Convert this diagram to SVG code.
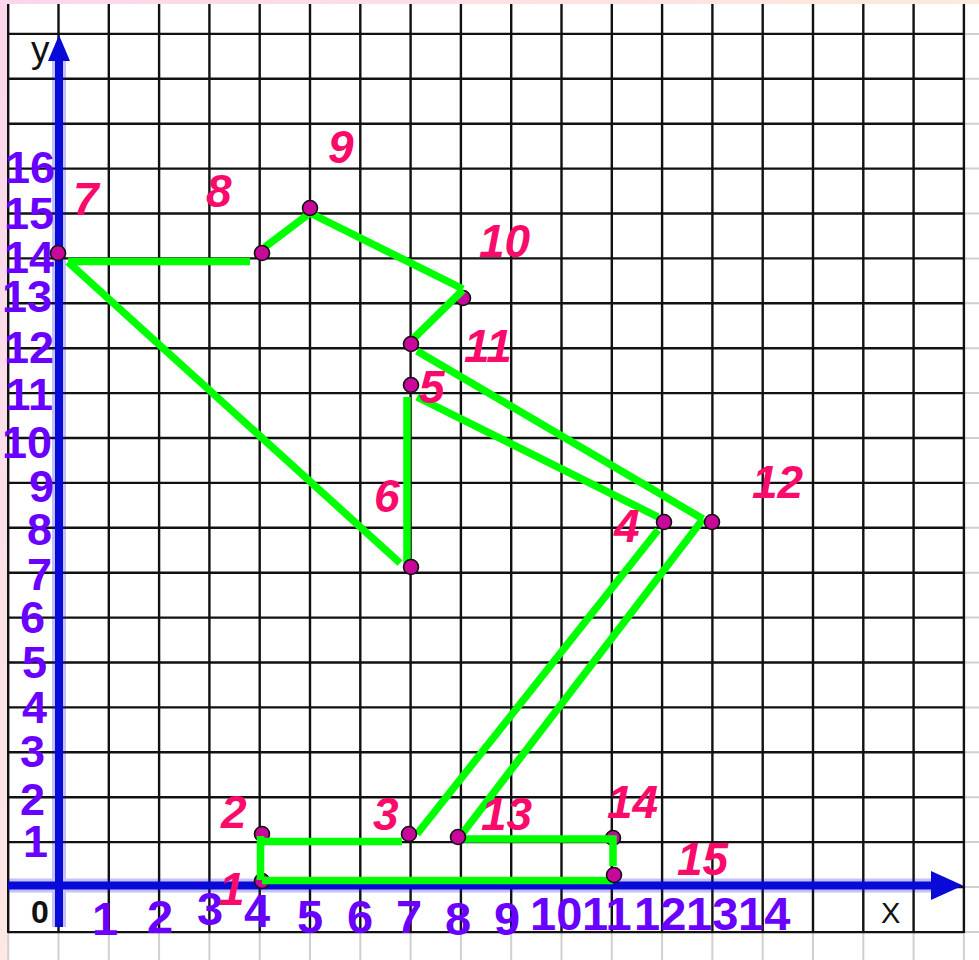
<svg xmlns="http://www.w3.org/2000/svg" width="979" height="960" viewBox="0 0 979 960">
<defs>
<linearGradient id="gl" x1="0" y1="0" x2="0" y2="1"><stop offset="0" stop-color="#fbd6ec"/><stop offset="1" stop-color="#fde8e4"/></linearGradient>
<linearGradient id="gt" x1="0" y1="0" x2="1" y2="0"><stop offset="0" stop-color="#fbd6ec"/><stop offset="1" stop-color="#fdeadb"/></linearGradient>
<style>
.grid{stroke:#111;stroke-width:2.4;fill:none}
.faint{stroke:#d0d0d0;stroke-width:2;fill:none}
.axis{stroke:#0a0ad8;stroke-width:8;fill:none}
.halo{stroke:#0a0ad8;stroke-width:14;stroke-opacity:0.25;fill:none}
.arrow{fill:#0a0ad8}
.seg{stroke:#00ff00;stroke-width:7.5;fill:none;stroke-linecap:butt;stroke-linejoin:miter}
.dot{fill:#c8089a;stroke:#111;stroke-width:1.6}
.lbl{font-family:"Liberation Sans",Arial,sans-serif;font-weight:bold;font-style:italic;font-size:46px;fill:#fa0a6a}
.num{font-family:"Liberation Sans",Arial,sans-serif;font-weight:bold;font-size:45px;fill:#6a00ff}
.xn{font-family:"Liberation Sans",Arial,sans-serif;font-weight:bold;font-size:47px;fill:#6a00ff}
.ax{font-family:"Liberation Sans",Arial,sans-serif;fill:#111}
</style>
</defs>
<rect x="0" y="0" width="979" height="960" fill="#ffffff"/>
<rect x="0" y="0" width="8" height="960" fill="url(#gl)"/>
<rect x="0" y="0" width="979" height="4" fill="url(#gt)"/>
<g id="grid">
<path class="faint" d="M8.2 933V960M58.5 933V960M108.8 933V960M159.1 933V960M209.4 933V960M259.7 933V960M310 933V960M360.3 933V960M410.6 933V960M460.9 933V960M511.2 933V960M561.5 933V960M611.8 933V960M662.1 933V960M712.4 933V960M762.7 933V960M813 933V960M863.3 933V960M913.6 933V960M963.9 933V960"/>
<path class="faint" d="M964 33.9H979M964 78.8H979M964 123.7H979M964 168.6H979M964 213.5H979M964 258.4H979M964 303.3H979M964 348.2H979M964 393.1H979M964 438H979M964 482.9H979M964 527.8H979M964 572.7H979M964 617.6H979M964 662.5H979M964 707.4H979M964 752.3H979M964 797.2H979M964 842.1H979M964 887H979M964 932.1H979"/>
<path class="grid" d="M8.2 4V933M58.5 4V933M108.8 4V933M159.1 4V933M209.4 4V933M259.7 4V933M310 4V933M360.3 4V933M410.6 4V933M460.9 4V933M511.2 4V933M561.5 4V933M611.8 4V933M662.1 4V933M712.4 4V933M762.7 4V933M813 4V933M863.3 4V933M913.6 4V933M963.9 4V933"/>
<path class="grid" d="M8 33.9H964M8 78.8H964M8 123.7H964M8 168.6H964M8 213.5H964M8 258.4H964M8 303.3H964M8 348.2H964M8 393.1H964M8 438H964M8 482.9H964M8 527.8H964M8 572.7H964M8 617.6H964M8 662.5H964M8 707.4H964M8 752.3H964M8 797.2H964M8 842.1H964M8 887H964M8 932.1H964"/>
</g>
<g id="axes">
<path class="halo" d="M59 927V60M8 885.5H934"/>
<path class="axis" d="M59 927V58M8 885.5H934"/>
<polygon class="arrow" points="59,35 70,61 48,61"/>
<polygon class="arrow" points="963,885.5 931,871 931,900"/>
<text class="ax" x="31" y="62" font-size="37">y</text>
<text class="ax" x="881" y="923" font-size="29">X</text>
<text class="ax" x="31" y="923" font-size="32" font-weight="bold">0</text>
</g>
<g id="y-labels" class="num" text-anchor="end">
<text x="55" y="183">16</text>
<text x="54" y="229">15</text>
<text x="54" y="273">14</text>
<text x="52" y="312">13</text>
<text x="54" y="363">12</text>
<text x="53" y="410">11</text>
<text x="52" y="458">10</text>
<text x="54" y="502">9</text>
<text x="52" y="545">8</text>
<text x="52" y="590">7</text>
<text x="45" y="633">6</text>
<text x="47" y="678">5</text>
<text x="47" y="723">4</text>
<text x="45" y="767">3</text>
<text x="45" y="815">2</text>
<text x="48" y="857">1</text>
</g>
<g id="x-labels" class="xn">
<text x="92" y="935">1</text>
<text x="147" y="933">2</text>
<text x="197" y="925">3</text>
<text x="244" y="927">4</text>
<text x="297" y="933">5</text>
<text x="347" y="933">6</text>
<text x="396" y="933">7</text>
<text x="445" y="935">8</text>
<text x="494" y="935">9</text>
<text x="530" y="930">10</text>
<text x="582" y="930">11</text>
<text x="634" y="930">12</text>
<text x="686" y="930">13</text>
<text x="738" y="930">14</text>
</g>
<g id="p1"><circle class="dot" cx="262" cy="881" r="7.5"/><text class="lbl" x="219" y="905">1</text></g>
<g id="p2"><circle class="dot" cx="262" cy="834" r="7.5"/><text class="lbl" x="221" y="828">2</text></g>
<g id="p10"><circle class="dot" cx="463" cy="298" r="7.5"/><text class="lbl" x="479" y="257">10</text></g>
<g id="p14"><circle class="dot" cx="613" cy="838" r="7.5"/><text class="lbl" x="607" y="818">14</text></g>
<g id="connectors">
<path class="seg" d="M262 880.5H613"/>
<path class="seg" d="M260.5 836V880"/>
<path class="seg" d="M262 841.5H402"/>
<path class="seg" d="M417 834L658 530"/>
<path class="seg" d="M658 517L417 397"/>
<path class="seg" d="M407 397V563"/>
<path class="seg" d="M400 563L68 262"/>
<path class="seg" d="M68 261.5H250"/>
<path class="seg" d="M265 247L310 213"/>
<path class="seg" d="M310 213L463 289"/>
<path class="seg" d="M463 290L414 338"/>
<path class="seg" d="M417 351L703 519"/>
<path class="seg" d="M703 519L462 834"/>
<path class="seg" d="M462 839H613V866"/>
</g>
<g id="p3"><circle class="dot" cx="409" cy="834" r="7.5"/><text class="lbl" x="373" y="830">3</text></g>
<g id="p4"><circle class="dot" cx="664" cy="522" r="7.5"/><text class="lbl" x="614" y="542">4</text></g>
<g id="p5"><circle class="dot" cx="411" cy="385" r="7.5"/><text class="lbl" x="419" y="403">5</text></g>
<g id="p6"><circle class="dot" cx="411" cy="567" r="7.5"/><text class="lbl" x="374" y="512">6</text></g>
<g id="p7"><circle class="dot" cx="58" cy="253" r="7.5"/><text class="lbl" x="73" y="215">7</text></g>
<g id="p8"><circle class="dot" cx="262" cy="253" r="7.5"/><text class="lbl" x="206" y="207">8</text></g>
<g id="p9"><circle class="dot" cx="310" cy="208" r="7.5"/><text class="lbl" x="328" y="163">9</text></g>
<g id="p11"><circle class="dot" cx="411" cy="344" r="7.5"/><text class="lbl" x="464" y="362">11</text></g>
<g id="p12"><circle class="dot" cx="712" cy="522" r="7.5"/><text class="lbl" x="752" y="498">12</text></g>
<g id="p13"><circle class="dot" cx="458" cy="837" r="7.5"/><text class="lbl" x="481" y="830">13</text></g>
<g id="p15"><circle class="dot" cx="614" cy="875" r="7.5"/><text class="lbl" x="677" y="875">15</text></g>
</svg>
